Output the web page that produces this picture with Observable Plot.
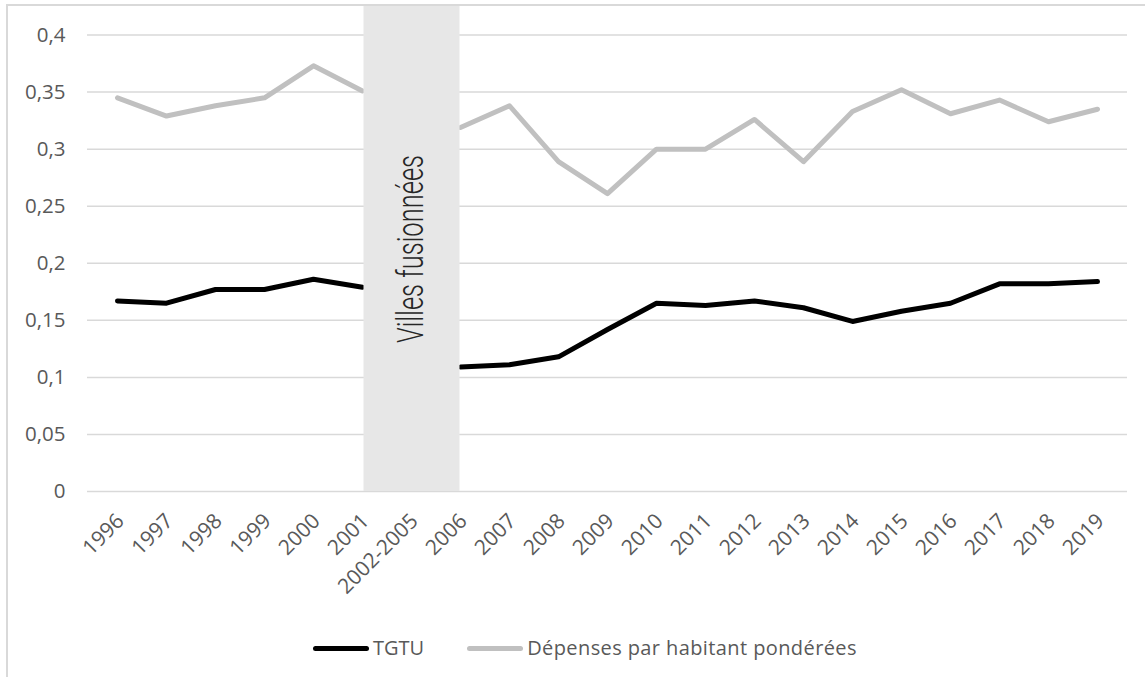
<!DOCTYPE html>
<html>
<head>
<meta charset="utf-8">
<script src="https://cdn.jsdelivr.net/npm/d3@7"></script>
<script src="https://cdn.jsdelivr.net/npm/@observablehq/plot@0.6"></script>
<style>
  html, body { margin: 0; padding: 0; background: #fff; }
  body { width: 1145px; height: 677px; overflow: hidden; position: relative; font-family: "Open Sans", sans-serif; }
  #frame { position: absolute; left: 6px; top: 4px; width: 1200px; height: 720px; border-top: 2px solid #d9d9d9; border-left: 2px solid #d9d9d9; box-sizing: border-box; }
  #chart { position: absolute; left: 0; top: 0; }
  #legend { position: absolute; top: 634px; left: 313px; display: flex; align-items: center; font-size: 20px; color: #595959; line-height: 28px; }
  .item { display: flex; align-items: center; margin-right: 43px; }
  .item:last-child span:last-child { letter-spacing: 0.4px; }
  .swatch { width: 56px; height: 5px; border-radius: 3px; margin-right: 4px; }
</style>
</head>
<body>
<div id="frame"></div>
<div id="chart"></div>
<div id="legend"></div>
<script>
// ---- Data ----
const categories = ["1996","1997","1998","1999","2000","2001","2002-2005","2006","2007","2008","2009","2010","2011","2012","2013","2014","2015","2016","2017","2018","2019"];
const tgtu =      [0.167,0.165,0.177,0.177,0.186,0.179,null,0.109,0.111,0.118,0.142,0.165,0.163,0.167,0.161,0.149,0.158,0.165,0.182,0.182,0.184];
const depenses =  [0.345,0.329,0.338,0.345,0.373,0.351,null,0.319,0.338,0.289,0.261,0.300,0.300,0.326,0.289,0.333,0.352,0.331,0.343,0.324,0.335];
const yTicks = [0, 0.05, 0.1, 0.15, 0.2, 0.25, 0.3, 0.35, 0.4];
const fusionPeriod = ["2002-2005"];
const bandLabel = ["Villes fusionnées"];
const seriesNames = ["TGTU", "Dépenses par habitant pondérées"];
const seriesColors = ["#000000", "#c0c0c0"];

const rows = categories.map((c, i) => ({cat: c, tgtu: tgtu[i], depenses: depenses[i]}));
const fmt = d => String(d).replace(".", ",");

const plot = Plot.plot({
  width: 1145,
  height: 615,
  marginLeft: 87,
  marginRight: 18,
  marginTop: 6,
  marginBottom: 124,
  style: {fontFamily: "'Open Sans', sans-serif", fontSize: "20.5px", color: "#595959", background: "transparent", overflow: "visible"},
  x: {type: "point", domain: categories, padding: 0.5, label: null},
  y: {domain: [0, 0.425], label: null},
  marks: [
    Plot.gridY(yTicks, {stroke: "#d9d9d9", strokeOpacity: 1, strokeWidth: 1.5}),
    Plot.axisY(yTicks, {tickSize: 0, tickPadding: 22, tickFormat: fmt, fill: "#595959", fontSize: 20.5, label: null}),
    Plot.axisX({tickSize: 0, tickRotate: -45, tickPadding: 26, dx: 3, fill: "#595959", fontSize: 21, label: null}),
    Plot.line(rows, {x: "cat", y: "depenses", stroke: seriesColors[1], strokeWidth: 5, strokeLinecap: "round", strokeLinejoin: "round"}),
    Plot.line(rows, {x: "cat", y: "tgtu", stroke: seriesColors[0], strokeWidth: 5, strokeLinecap: "round", strokeLinejoin: "round"}),
    Plot.ruleX(fusionPeriod, {stroke: "#e7e7e7", strokeWidth: 96, strokeOpacity: 1}),
    Plot.text(bandLabel, {x: () => fusionPeriod[0], frameAnchor: "middle", text: d => d, rotate: -90,
      fontFamily: "Roboto, 'Open Sans', sans-serif", fontWeight: 300, fontSize: 36, fill: "#262626"})
  ]
});
document.getElementById("chart").appendChild(plot);

// compress the annotation text like the condensed original font
plot.querySelectorAll('g[aria-label="text"] text').forEach(t => {
  t.setAttribute("textLength", 188);
  t.setAttribute("lengthAdjust", "spacingAndGlyphs");
});

// ---- Legend ----
const legend = document.getElementById("legend");
seriesNames.forEach((name, i) => {
  const item = document.createElement("div");
  item.className = "item";
  const sw = document.createElement("span");
  sw.className = "swatch";
  sw.style.background = seriesColors[i];
  const label = document.createElement("span");
  label.textContent = name;
  item.appendChild(sw);
  item.appendChild(label);
  legend.appendChild(item);
});
</script>
</body>
</html>
